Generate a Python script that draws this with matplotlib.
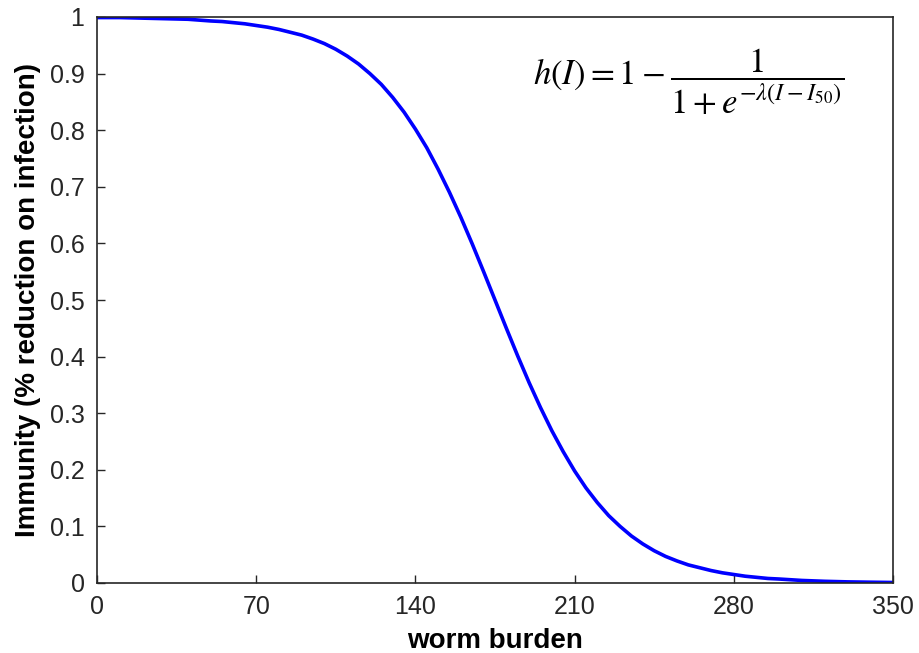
import numpy as np
import matplotlib
matplotlib.use("Agg")
import matplotlib.pyplot as plt

# worm burden and immunity values
burden = [0, 10, 20, 30, 40, 50, 55, 60, 65, 70, 75, 80, 85, 90, 95, 100, 105,
          110, 115, 120, 125, 130, 135, 140, 145, 150, 155, 160, 165, 170, 175,
          180, 185, 190, 195, 200, 205, 210, 215, 220, 225, 230, 235, 240, 245,
          250, 255, 260, 265, 270, 275, 280, 285, 290, 295, 300, 310, 320, 330,
          340, 350]
immunity = [0.999, 0.999, 0.998, 0.997, 0.996, 0.993, 0.992, 0.990, 0.988, 0.985,
            0.982, 0.978, 0.973, 0.968, 0.961, 0.953, 0.943, 0.931, 0.917, 0.900,
            0.881, 0.858, 0.832, 0.802, 0.769, 0.731, 0.690, 0.646, 0.599, 0.550,
            0.500, 0.450, 0.401, 0.354, 0.310, 0.269, 0.232, 0.198, 0.168, 0.142,
            0.119, 0.100, 0.083, 0.069, 0.057, 0.047, 0.039, 0.032, 0.027, 0.022,
            0.018, 0.015, 0.012, 0.010, 0.008, 0.007, 0.0045, 0.003, 0.002, 0.0014,
            0.0009]

xticks = [0, 70, 140, 210, 280, 350]
yticks = [0, 0.1, 0.2, 0.3, 0.4, 0.5, 0.6, 0.7, 0.8, 0.9, 1]
yticklabels = ["0", "0.1", "0.2", "0.3", "0.4", "0.5", "0.6", "0.7", "0.8", "0.9", "1"]

plt.rcParams['font.family'] = ['Liberation Sans', 'DejaVu Sans']
plt.rcParams['mathtext.fontset'] = 'stix'

fig = plt.figure(figsize=(9.19, 6.53), dpi=100)
ax = fig.add_axes([97/919, 1-583/653, 796/919, 566/653])

ax.plot(burden, immunity, c='#0000ff', lw=2.6)
ax.set_xlim((0, 350))
ax.set_ylim((0, 1))
ax.set_xticks(xticks)
ax.set_xticklabels([str(t) for t in xticks])
ax.set_yticks(yticks)
ax.set_yticklabels(yticklabels)
ax.tick_params(direction='in', length=6, width=1, labelsize=18, top=False, right=False,
               colors='#262626')
ax.tick_params(axis='x', pad=9)
ax.tick_params(axis='y', pad=9)
for s in ax.spines.values():
    s.set_linewidth(1.2)
    s.set_color('#262626')

ax.set_xlabel('worm burden', fontsize=20, fontweight='bold', labelpad=6)
ax.set_ylabel('Immunity (% reduction on infection)', fontsize=20, fontweight='bold', labelpad=6)

ax.text(0.548, 0.885, r'$h(I) = 1 - \dfrac{1}{1 + e^{-\lambda(I - I_{50})}}$',
        transform=ax.transAxes, fontsize=25, va='center', ha='left')

fig.savefig('out.png', dpi=100)
